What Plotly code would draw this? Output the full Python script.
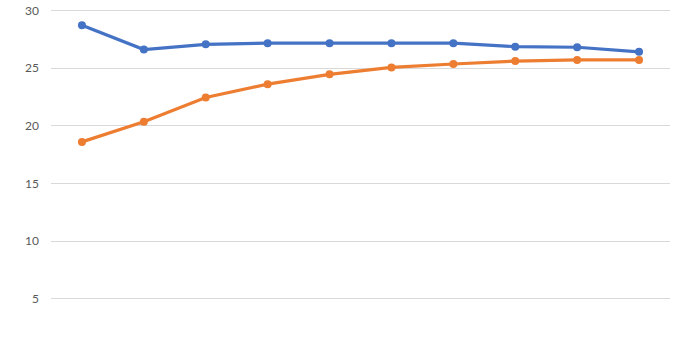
import plotly.graph_objects as go

categories = [1, 2, 3, 4, 5, 6, 7, 8, 9, 10]
series_blue = [28.7, 26.6, 27.05, 27.15, 27.15, 27.15, 27.15, 26.85, 26.8, 26.4]
series_orange = [18.6, 20.35, 22.45, 23.6, 24.45, 25.05, 25.35, 25.6, 25.7, 25.7]
y_ticks = [5, 10, 15, 20, 25, 30]

x_idx = list(range(len(categories)))

fig = go.Figure()
fig.add_trace(go.Scatter(
    x=x_idx, y=series_blue, mode="lines+markers",
    line=dict(color="#4472C4", width=3.2),
    marker=dict(color="#4472C4", size=8),
    showlegend=False, cliponaxis=False,
))
fig.add_trace(go.Scatter(
    x=x_idx, y=series_orange, mode="lines+markers",
    line=dict(color="#ED7D31", width=3.2),
    marker=dict(color="#ED7D31", size=8),
    showlegend=False, cliponaxis=False,
))

fig.update_layout(
    width=700, height=350,
    margin=dict(l=51, r=30, t=8.3, b=0),
    paper_bgcolor="white", plot_bgcolor="white",
    xaxis=dict(range=[-0.5, len(categories) - 0.5], showgrid=False,
               showticklabels=False, zeroline=False, showline=False, fixedrange=True),
    yaxis=dict(range=[0.57, 30.2], tickvals=y_ticks, ticktext=[str(v) for v in y_ticks],
               showgrid=True, gridcolor="#D9D9D9", gridwidth=1,
               zeroline=False, showline=False,
               ticklabelstandoff=11,
               tickfont=dict(family="Lato, 'Open Sans', sans-serif", size=12, color="#595959")),
)

fig.write_html("out.html")
